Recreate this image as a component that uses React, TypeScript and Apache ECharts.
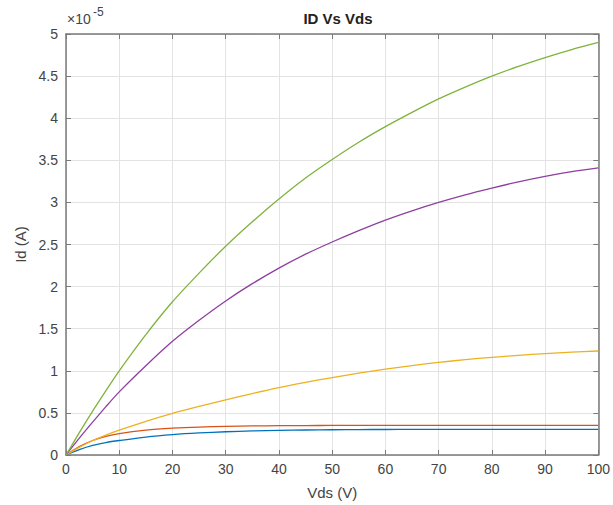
import React, { useEffect, useRef } from "react";
import * as echarts from "echarts";

const vds = [0, 2.5, 5, 7.5, 10, 15, 20, 25, 30, 35, 40, 45, 50, 55, 60, 65, 70, 75, 80, 85, 90, 95, 100];
// Id values in units of 1e-5 A
const idBlue = [0, 0.065, 0.115, 0.148, 0.172, 0.213, 0.242, 0.262, 0.276, 0.286, 0.292, 0.297, 0.3, 0.302, 0.303, 0.304, 0.305, 0.305, 0.305, 0.305, 0.305, 0.305, 0.305];
const idOrange = [0, 0.1, 0.172, 0.222, 0.255, 0.295, 0.318, 0.332, 0.34, 0.345, 0.348, 0.35, 0.351, 0.352, 0.352, 0.353, 0.353, 0.353, 0.353, 0.353, 0.353, 0.353, 0.353];
const idYellow = [0, 0.09, 0.172, 0.237, 0.295, 0.4, 0.495, 0.578, 0.655, 0.73, 0.8, 0.862, 0.92, 0.972, 1.02, 1.062, 1.1, 1.132, 1.16, 1.184, 1.205, 1.221, 1.235];
const idPurple = [0, 0.2, 0.39, 0.575, 0.75, 1.06, 1.35, 1.6, 1.83, 2.035, 2.22, 2.385, 2.53, 2.665, 2.79, 2.9, 3.0, 3.09, 3.17, 3.245, 3.31, 3.365, 3.41];
const idGreen = [0, 0.265, 0.52, 0.765, 1.0, 1.43, 1.82, 2.16, 2.48, 2.77, 3.04, 3.29, 3.51, 3.715, 3.9, 4.07, 4.23, 4.37, 4.5, 4.615, 4.72, 4.815, 4.9];

const seriesList = [
  { name: "s1", values: idBlue, color: "#0072BD" },
  { name: "s2", values: idOrange, color: "#D95319" },
  { name: "s3", values: idYellow, color: "#EDB120" },
  { name: "s4", values: idPurple, color: "#8E3FA0" },
  { name: "s5", values: idGreen, color: "#7FB33C" },
];

const title = "ID Vs Vds";
const xName = "Vds (V)";
const yName = "Id (A)";

export default function App() {
  const ref = useRef<HTMLDivElement>(null);
  useEffect(() => {
    if (!ref.current) return;
    const chart = echarts.init(ref.current, undefined, { renderer: "svg" });
    const font = "Liberation Sans, Arial, Helvetica, sans-serif";
    const axisColor = "#7a7a7a";
    const labelColor = "#444444";
    const gridColor = "#e3e3e3";
    chart.setOption({
      animation: false,
      backgroundColor: "#ffffff",
      textStyle: { fontFamily: font },
      title: {
        text: title,
        left: 333,
        textAlign: "center",
        top: 6,
        textStyle: { fontSize: 15, fontWeight: "bold", color: "#222", fontFamily: font },
      },
      grid: { left: 66, right: 13, top: 34, bottom: 50, containLabel: false },
      xAxis: [
        {
          type: "value",
          min: 0,
          max: 100,
          interval: 10,
          name: xName,
          nameLocation: "middle",
          nameGap: 30,
          nameTextStyle: { fontSize: 15, color: labelColor, fontFamily: font },
          axisLine: { show: true, onZero: false, lineStyle: { color: axisColor, width: 1.5 } },
          axisTick: { show: true, inside: true, length: 5, lineStyle: { color: axisColor } },
          axisLabel: { fontSize: 14, color: labelColor, margin: 7, fontFamily: font },
          splitLine: { show: true, lineStyle: { color: gridColor, width: 1 } },
        },
        {
          type: "value",
          position: "top",
          min: 0,
          max: 100,
          interval: 10,
          axisLine: { show: true, onZero: false, lineStyle: { color: axisColor, width: 1.5 } },
          axisTick: { show: true, inside: true, length: 5, lineStyle: { color: axisColor } },
          axisLabel: { show: false },
          splitLine: { show: false },
        },
      ],
      yAxis: [
        {
          type: "value",
          min: 0,
          max: 5,
          interval: 0.5,
          name: yName,
          nameLocation: "middle",
          nameGap: 38,
          nameTextStyle: { fontSize: 15, color: labelColor, fontFamily: font },
          axisLine: { show: true, onZero: false, lineStyle: { color: axisColor, width: 1.5 } },
          axisTick: { show: true, inside: true, length: 5, lineStyle: { color: axisColor } },
          axisLabel: { fontSize: 14, color: labelColor, margin: 8, fontFamily: font },
          splitLine: { show: true, lineStyle: { color: gridColor, width: 1 } },
        },
        {
          type: "value",
          position: "right",
          min: 0,
          max: 5,
          interval: 0.5,
          axisLine: { show: true, onZero: false, lineStyle: { color: axisColor, width: 1.5 } },
          axisTick: { show: true, inside: true, length: 5, lineStyle: { color: axisColor } },
          axisLabel: { show: false },
          splitLine: { show: false },
        },
      ],
      graphic: [
        {
          type: "text",
          left: 67,
          top: 12,
          style: { text: "×10", fontSize: 14, fill: labelColor, fontFamily: font },
        },
        {
          type: "text",
          left: 93,
          top: 6,
          style: { text: "-5", fontSize: 12, fill: labelColor, fontFamily: font },
        },
      ],
      series: seriesList.map((s) => ({
        name: s.name,
        type: "line",
        xAxisIndex: 0,
        yAxisIndex: 0,
        data: vds.map((v, i) => [v, s.values[i]]),
        showSymbol: false,
        smooth: 0.3,
        lineStyle: { color: s.color, width: 1.3 },
        itemStyle: { color: s.color },
      })),
    });
    return () => chart.dispose();
  }, []);
  return (
    <div
      ref={ref}
      style={{ position: "fixed", left: 0, top: 0, width: 613, height: 505 }}
    />
  );
}
